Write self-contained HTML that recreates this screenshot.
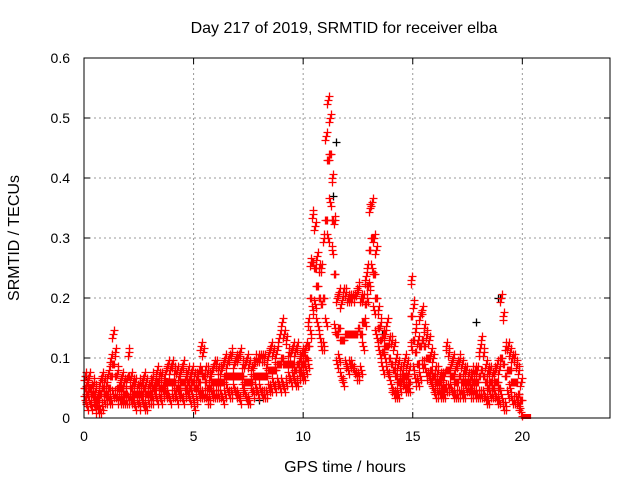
<!DOCTYPE html>
<html><head><meta charset="utf-8"><style>
body{margin:0;background:#fff;}
svg text{font-family:"Liberation Sans",sans-serif;font-size:14px;fill:#000;}
svg text.big{font-size:16px;}
</style></head><body>
<svg id="c" width="640" height="480">
</svg>
<script>
const xTicks=[0,5,10,15,20];
const yTicks=[0,0.1,0.2,0.3,0.4,0.5,0.6];
const yTickLabels=["0","0.1","0.2","0.3","0.4","0.5","0.6"];
const slotStart=0, slotStep=0.1;
const hiVals=[7,6,7,5,6,5,4,6,7,6, 6,8,10,14,11,8,6,7,6,6, 11,7,6,6,5,6,6,7,6,5, 6,7,6,8,7,7,6,8,9,8, 9,8,8,7,8,9,7,8,7,8,
 7,7,8,12,11,8,8,7,8,9, 9,8,8,9,10,9,10,11,9,10, 10,11,9,9,10,9,8,9,10,10, 10,10,10,9,11,12,11,10,12,14, 16,14,13,11,11,12,11,12,10,11,
 11,12,16,26,34,32,27,25,25,30, 47,53,50,40,33,20,21,19,21,21, 20,20,20,20,21,22,20,20,23,25, 35,36,30,28,18,16,14,14,16,13, 13,12,10,9,8,8,10,9,8,23,
 19,15,13,17,18,15,14,13,11,10, 8,8,7,7,7,12,11,9,10,8, 9,10,9,8,8,7,7,8,8,8, 11,13,11,9,8,8,7,8,9,8, 20,17,12,12,11,10,10,9,8,6];
const midVals=[5,4,5,4,4,3,3,4,5,4, 4,5,7,9,7,5,5,5,4,4, 7,5,4,4,4,4,4,5,4,4, 4,5,5,6,5,5,5,6,6,6, 6,6,5,5,6,6,5,6,5,6,
 5,5,6,8,7,6,5,5,6,6, 6,6,6,6,7,7,7,7,7,7, 7,7,7,6,6,6,6,7,7,7, 7,7,7,7,8,8,8,8,9,9, 10,9,9,9,9,9,8,9,8,9,
 9,10,12,20,26,25,22,20,19,20, 33,43,44,33,24,14,15,13,13,14, 14,14,14,14,14,15,14,16,19,22, 28,30,24,20,15,13,11,12,12,10, 9,8,7,6,6,7,7,7,6,17,
 13,11,9,12,13,12,10,10,8,7, 6,6,6,5,5,8,8,7,7,6, 6,7,6,6,6,6,5,6,6,6, 7,8,7,6,5,6,5,6,6,5, 10,9,7,8,8,6,6,6,4,3];
const loVals=[3,2,3,2,3,1.5,1.5,1.5,2,3, 3,3,3,4,4,3,3,3,3,3, 3,3,3,2,3,2,3,2,2,3, 3,3,4,3,4,3,4,4,4,3, 4,4,3,4,4,3,4,4,3,4,
 2,3,4,4,4,4,3,3,4,4, 4,4,4,3,4,5,4,4,5,4, 4,3,5,4,3,3,5,4,5,4, 5,4,4,4,5,5,6,5,6,5, 6,5,6,7,6,7,6,6,7,7,
 7,8,9,14,18,19,16,14,12,12, 16,30,36,28,15,9,10,7,6,9, 8,9,9,8,7,7,8,12,16,20, 22,25,18,14,12,10,8,10,8,7, 5,4,4,4,5,6,5,5,5,12,
 8,6,6,7,9,9,7,7,6,5, 4,4,4,4,4,5,5,5,4,4, 4,4,4,4,5,5,4,4,4,4, 4,4,4,3,3,4,4,4,3,3, 4,2,2,4,5,3,3,3,2,1];
const blackTimes=[0.1,4.0,8.0,11.35,11.5,13.6,17.9,18.9,19.0];
const blackVals=[0.07,0.09,0.03,0.37,0.46,0.14,0.16,0.2,0.2];

const L=84,R=610,T=58,B=418;
const X=t=>L+(t-0)/24*(R-L);
const Y=v=>B-(v-0)/0.6*(B-T);
const svg=document.getElementById('c');
const NS='http://www.w3.org/2000/svg';
function mk(tag,a){const e=document.createElementNS(NS,tag);for(const k in a)e.setAttribute(k,a[k]);svg.appendChild(e);return e;}

xTicks.forEach(t=>{
 const g=mk('line',{x1:X(t),x2:X(t),y1:T,y2:B,stroke:'#999','stroke-dasharray':'2,3'});
 
 
 const tx=mk('text',{x:X(t),y:B+23,'text-anchor':'middle'});tx.textContent=t;
 
 
 mk('line',{x1:X(t),x2:X(t),y1:B,y2:B-6,stroke:'#000'});
 mk('line',{x1:X(t),x2:X(t),y1:T,y2:T+6,stroke:'#000'});
});
yTicks.forEach((v,i)=>{
 const g=mk('line',{x1:L,x2:R,y1:Y(v),y2:Y(v),stroke:'#999','stroke-dasharray':'2,3'});
 
 
 const tx=mk('text',{x:L-14,y:Y(v)+5,'text-anchor':'end'});tx.textContent=yTickLabels[i];
 
 
 mk('line',{x1:L,x2:L+6,y1:Y(v),y2:Y(v),stroke:'#000'});
 mk('line',{x1:R,x2:R-6,y1:Y(v),y2:Y(v),stroke:'#000'});
});
function plus(t,v,col){
 const x=Math.round(X(t))+0.5,y=Math.round(Y(v))+0.5;
 const p=mk('path',{d:`M${x-4} ${y}H${x+4}M${x} ${y-4}V${y+4}`,stroke:col,'stroke-width':1.3,fill:'none'});
 
 
}
blackTimes.forEach((t,i)=>plus(t,blackVals[i],'#000'));
[loVals,midVals,hiVals].forEach((arr,k)=>arr.forEach((v,i)=>{
 [0,0.035,0.07].forEach(o=>plus(slotStart+i*slotStep+o,v/100+(o-0.035)*(k-1)*0.2,'#f00'));
}));
const endb=mk('rect',{x:X(19.95),y:Y(0)-4,width:X(20.4)-X(19.95),height:5,fill:'#f00'});


const box=mk('rect',{x:L,y:T,width:R-L,height:B-T,fill:'none',stroke:'#000'});


const ti=mk('text',{x:344,y:33,'text-anchor':'middle',class:'big'});ti.textContent='Day 217 of 2019, SRMTID for receiver elba';


const xl=mk('text',{x:345,y:472,'text-anchor':'middle',class:'big'});xl.textContent='GPS time / hours';


const yl=mk('text',{x:0,y:0,'text-anchor':'middle',class:'big',transform:'translate(19,238) rotate(-90)'});yl.textContent='SRMTID / TECUs';


</script>
</body></html>
